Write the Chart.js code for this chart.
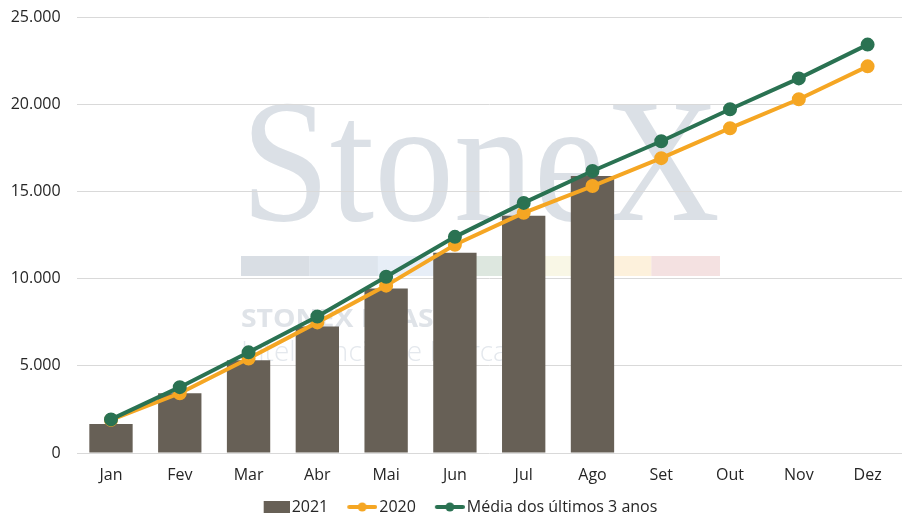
<!DOCTYPE html>
<html>
<head>
<meta charset="utf-8">
<script src="https://cdn.jsdelivr.net/npm/chart.js@4.4.1/dist/chart.umd.min.js"></script>
<style>
  html, body { margin: 0; padding: 0; background: #ffffff; overflow: hidden; }
  #box { width: 917px; height: 537px; margin-top: -8px; }
</style>
</head>
<body>
<div id="box"><canvas id="graficoStonex"></canvas></div>
<script>
const meses = ["Jan", "Fev", "Mar", "Abr", "Mai", "Jun", "Jul", "Ago", "Set", "Out", "Nov", "Dez"];
const valores2021 = [1660, 3430, 5320, 7270, 9440, 11500, 13620, 15900, null, null, null, null];
const valores2020 = [1900, 3430, 5430, 7500, 9610, 11960, 13790, 15330, 16930, 18650, 20310, 22200];
const mediaTresAnos = [1930, 3780, 5780, 7840, 10120, 12410, 14360, 16190, 17900, 19740, 21510, 23450];
const ticksY = [0, 5000, 10000, 15000, 20000, 25000];

const corBarra = "#676056";
const corLaranja = "#F5A623";
const corVerde = "#2A7252";
const fonte = "'Open Sans', Lato, sans-serif";

// simbolos da legenda: canvas de 43px com o desenho encostado a direita
function simboloLinha(cor) {
    const c = document.createElement("canvas");
    c.width = 43;
    c.height = 12;
    const g = c.getContext("2d");
    g.strokeStyle = cor;
    g.lineWidth = 4;
    g.lineCap = "round";
    g.beginPath();
    g.moveTo(15, 6);
    g.lineTo(41, 6);
    g.stroke();
    g.fillStyle = cor;
    g.beginPath();
    g.arc(28, 6, 4.5, 0, Math.PI * 2);
    g.fill();
    return c;
}

function simboloBarra(cor) {
    const c = document.createElement("canvas");
    c.width = 43;
    c.height = 12;
    const g = c.getContext("2d");
    g.fillStyle = cor;
    g.fillRect(17, 0, 26, 12);
    return c;
}

function textoAjustado(ctx, texto, x, y, largura) {
    const w = ctx.measureText(texto).width;
    ctx.save();
    ctx.translate(x, y);
    ctx.scale(largura / w, 1);
    ctx.fillText(texto, 0, 0);
    ctx.restore();
}

// marca d'agua atras do grafico (canvas comeca 8px acima da pagina)
const marcaDagua = {
    id: "marcaDagua",
    beforeDraw(chart) {
        const ctx = chart.ctx;
        ctx.save();
        ctx.translate(0, 8);
        ctx.fillStyle = "#dbe0e6";
        ctx.font = "176px 'Liberation Serif', 'DejaVu Serif', serif";
        ctx.textBaseline = "alphabetic";
        textoAjustado(ctx, "StoneX", 241, 220, 479);

        const faixas = ["#d9dee4", "#dee5ed", "#e7eef7", "#dde7df", "#f9f7e6", "#fdf1dc", "#f4e1e1"];
        faixas.forEach((cor, i) => {
            ctx.fillStyle = cor;
            ctx.fillRect(241 + i * 68.4, 256, 68.6, 20);
        });
        ctx.fillStyle = "#dfe3e8";
        ctx.font = "bold 25px " + fonte;
        textoAjustado(ctx, "STONEX BRASIL", 241, 327, 218);
        ctx.fillStyle = "#e4e8ed";
        ctx.font = "300 28px " + fonte;
        textoAjustado(ctx, "Inteligência de Mercado", 241, 361, 300);
        ctx.restore();
    }
};

const ctx = document.getElementById("graficoStonex").getContext("2d");

new Chart(ctx, {
    type: "bar",
    data: {
        labels: meses,
        datasets: [
            {
                label: "2021",
                data: valores2021,
                backgroundColor: corBarra,
                barPercentage: 0.63,
                categoryPercentage: 1,
                order: 3
            },
            {
                type: "line",
                label: "2020",
                data: valores2020,
                borderColor: corLaranja,
                backgroundColor: corLaranja,
                borderWidth: 4,
                pointRadius: 5,
                pointHoverRadius: 5,
                tension: 0,
                order: 2
            },
            {
                type: "line",
                label: "Média dos últimos 3 anos",
                data: mediaTresAnos,
                borderColor: corVerde,
                backgroundColor: corVerde,
                borderWidth: 4,
                pointRadius: 5,
                pointHoverRadius: 5,
                tension: 0,
                order: 1
            }
        ]
    },
    options: {
        responsive: true,
        maintainAspectRatio: false,
        animation: false,
        layout: {
            padding: { left: 8, right: 15, top: 0, bottom: 4 }
        },
        plugins: {
            tooltip: { enabled: false },
            legend: {
                position: "bottom",
                labels: {
                    color: "#262626",
                    font: { family: fonte, size: 16 },
                    usePointStyle: true,
                    pointStyleWidth: 31,
                    padding: 12,
                    generateLabels(chart) {
                        return chart.data.datasets.map((ds, i) => ({
                            text: ds.label,
                            datasetIndex: i,
                            fontColor: "#262626",
                            lineWidth: 0,
                            strokeStyle: "transparent",
                            fillStyle: "transparent",
                            pointStyle: i === 0 ? simboloBarra(corBarra) : simboloLinha(ds.borderColor)
                        }));
                    }
                }
            }
        },
        scales: {
            x: {
                grid: { display: false },
                border: { display: false },
                afterFit(scale) { scale.height = 34; },
                ticks: {
                    color: "#262626",
                    font: { family: fonte, size: 16 },
                    padding: 5
                }
            },
            y: {
                min: 0,
                max: 25000,
                afterBuildTicks(axis) {
                    axis.ticks = ticksY.map(v => ({ value: v }));
                },
                afterFit(scale) { scale.width = 68.6; },
                border: { display: false },
                grid: {
                    color: "#d9d9d9",
                    drawTicks: false
                },
                ticks: {
                    color: "#262626",
                    font: { family: fonte, size: 16 },
                    padding: 16,
                    callback: v => v.toLocaleString("de-DE")
                }
            }
        }
    },
    plugins: [marcaDagua]
});
</script>
</body>
</html>
